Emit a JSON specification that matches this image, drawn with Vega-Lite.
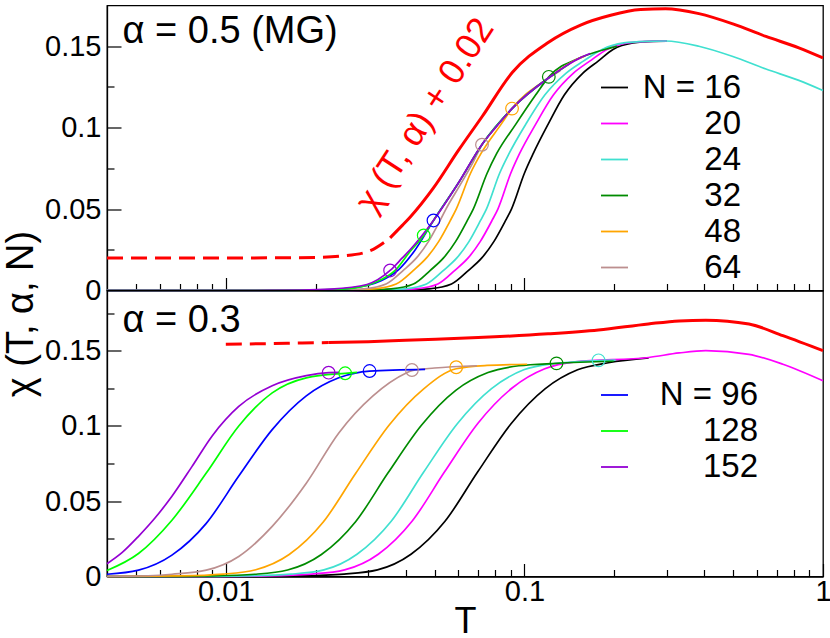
{
"$schema": "https://vega.github.io/schema/vega-lite/v6.json",
"padding": {"left": 1, "top": 1.5, "right": 0, "bottom": 0},
"config": {
  "font": "Liberation Sans, Arial, Helvetica, sans-serif",
  "view": {"stroke": "#000000", "strokeWidth": 1.3},
  "axis": {"grid": false, "domainColor": "#000000", "domainWidth": 1.3, "tickColor": "#000000", "tickWidth": 1.2, "labelFont": "Liberation Sans, Arial, Helvetica, sans-serif", "labelFontSize": 29, "labelColor": "#000000", "titleFont": "Liberation Sans, Arial, Helvetica, sans-serif", "titleFontSize": 38, "titleFontWeight": "normal", "titleColor": "#000000", "labelFlush": false, "labelOverlap": false},
  "legend": {"labelFont": "Liberation Sans, Arial, Helvetica, sans-serif", "labelFontSize": 33, "labelColor": "#000000", "symbolType": "stroke", "symbolSize": 730, "symbolStrokeWidth": 1.8, "labelAlign": "right", "padding": 0}
},
"datasets": {
  "topCurves": [
    {"N":"16","T":0.004,"chi":0},{"N":"16","T":0.03,"chi":0},{"N":"16","T":0.04,"chi":0.0003},{"N":"16","T":0.048,"chi":0.001},{"N":"16","T":0.057,"chi":0.004},{"N":"16","T":0.065,"chi":0.0124},{"N":"16","T":0.072,"chi":0.02},{"N":"16","T":0.079,"chi":0.03},{"N":"16","T":0.0865,"chi":0.043},{"N":"16","T":0.0905,"chi":0.05},{"N":"16","T":0.1,"chi":0.072},{"N":"16","T":0.107,"chi":0.084},{"N":"16","T":0.12,"chi":0.102},{"N":"16","T":0.136,"chi":0.12},{"N":"16","T":0.157,"chi":0.1335},{"N":"16","T":0.177,"chi":0.141},{"N":"16","T":0.198,"chi":0.148},{"N":"16","T":0.231,"chi":0.152},{"N":"16","T":0.27,"chi":0.153},{"N":"16","T":0.3,"chi":0.1531},
    {"N":"20","T":0.004,"chi":0},{"N":"20","T":0.027,"chi":0},{"N":"20","T":0.036,"chi":0.0003},{"N":"20","T":0.0432,"chi":0.001},{"N":"20","T":0.0513,"chi":0.004},{"N":"20","T":0.0585,"chi":0.0124},{"N":"20","T":0.0648,"chi":0.02},{"N":"20","T":0.0711,"chi":0.03},{"N":"20","T":0.0779,"chi":0.043},{"N":"20","T":0.0815,"chi":0.05},{"N":"20","T":0.09,"chi":0.072},{"N":"20","T":0.0963,"chi":0.084},{"N":"20","T":0.109,"chi":0.102},{"N":"20","T":0.125,"chi":0.12},{"N":"20","T":0.146,"chi":0.1335},{"N":"20","T":0.166,"chi":0.141},{"N":"20","T":0.189,"chi":0.148},{"N":"20","T":0.222,"chi":0.152},{"N":"20","T":0.26,"chi":0.153},{"N":"20","T":0.3,"chi":0.1531},
    {"N":"24","T":0.004,"chi":0},{"N":"24","T":0.025,"chi":0},{"N":"24","T":0.033,"chi":0.0003},{"N":"24","T":0.0397,"chi":0.001},{"N":"24","T":0.047,"chi":0.004},{"N":"24","T":0.0536,"chi":0.0124},{"N":"24","T":0.0594,"chi":0.02},{"N":"24","T":0.0652,"chi":0.03},{"N":"24","T":0.0713,"chi":0.043},{"N":"24","T":0.0746,"chi":0.05},{"N":"24","T":0.0826,"chi":0.072},{"N":"24","T":0.0888,"chi":0.084},{"N":"24","T":0.101,"chi":0.102},{"N":"24","T":0.117,"chi":0.12},{"N":"24","T":0.138,"chi":0.1335},{"N":"24","T":0.158,"chi":0.141},{"N":"24","T":0.182,"chi":0.148},{"N":"24","T":0.215,"chi":0.152},{"N":"24","T":0.255,"chi":0.153},{"N":"24","T":0.297,"chi":0.1532},{"N":"24","T":0.384,"chi":0.15},{"N":"24","T":0.499,"chi":0.1437},{"N":"24","T":0.644,"chi":0.136},{"N":"24","T":0.83,"chi":0.129},{"N":"24","T":1,"chi":0.1228},
    {"N":"32","T":0.004,"chi":0},{"N":"32","T":0.022,"chi":0},{"N":"32","T":0.03,"chi":0.0003},{"N":"32","T":0.0358,"chi":0.001},{"N":"32","T":0.0425,"chi":0.004},{"N":"32","T":0.0484,"chi":0.0124},{"N":"32","T":0.0536,"chi":0.02},{"N":"32","T":0.0588,"chi":0.03},{"N":"32","T":0.0644,"chi":0.043},{"N":"32","T":0.0674,"chi":0.05},{"N":"32","T":0.075,"chi":0.072},{"N":"32","T":0.0807,"chi":0.084},{"N":"32","T":0.0935,"chi":0.102},{"N":"32","T":0.109,"chi":0.12},{"N":"32","T":0.1207,"chi":0.1312},{"N":"32","T":0.1542,"chi":0.143},{"N":"32","T":0.1945,"chi":0.149},{"N":"32","T":0.204,"chi":0.15},
    {"N":"48","T":0.004,"chi":0},{"N":"48","T":0.019,"chi":0},{"N":"48","T":0.026,"chi":0.0003},{"N":"48","T":0.0313,"chi":0.001},{"N":"48","T":0.0372,"chi":0.004},{"N":"48","T":0.0425,"chi":0.0124},{"N":"48","T":0.047,"chi":0.02},{"N":"48","T":0.0516,"chi":0.03},{"N":"48","T":0.0565,"chi":0.043},{"N":"48","T":0.0591,"chi":0.05},{"N":"48","T":0.066,"chi":0.072},{"N":"48","T":0.0715,"chi":0.084},{"N":"48","T":0.0835,"chi":0.102},{"N":"48","T":0.0909,"chi":0.1117},{"N":"48","T":0.1194,"chi":0.13},{"N":"48","T":0.1542,"chi":0.143},{"N":"48","T":0.1585,"chi":0.1438},
    {"N":"64","T":0.004,"chi":0},{"N":"64","T":0.018,"chi":0},{"N":"64","T":0.024,"chi":0.0003},{"N":"64","T":0.029,"chi":0.001},{"N":"64","T":0.0344,"chi":0.004},{"N":"64","T":0.0393,"chi":0.0124},{"N":"64","T":0.0435,"chi":0.02},{"N":"64","T":0.0477,"chi":0.03},{"N":"64","T":0.0522,"chi":0.043},{"N":"64","T":0.0546,"chi":0.05},{"N":"64","T":0.061,"chi":0.065},{"N":"64","T":0.067,"chi":0.078},{"N":"64","T":0.0721,"chi":0.0895},{"N":"64","T":0.08,"chi":0.1},{"N":"64","T":0.0912,"chi":0.112},{"N":"64","T":0.1194,"chi":0.13},{"N":"64","T":0.1318,"chi":0.135},
    {"N":"96","T":0.004,"chi":0},{"N":"96","T":0.0141,"chi":0},{"N":"96","T":0.02,"chi":0.0002},{"N":"96","T":0.0263,"chi":0.0015},{"N":"96","T":0.0331,"chi":0.006},{"N":"96","T":0.038,"chi":0.013},{"N":"96","T":0.0427,"chi":0.024},{"N":"96","T":0.0496,"chi":0.043},{"N":"96","T":0.0601,"chi":0.066},{"N":"96","T":0.0723,"chi":0.09},{"N":"96","T":0.0912,"chi":0.112},{"N":"96","T":0.1194,"chi":0.13},{"N":"96","T":0.126,"chi":0.133},
    {"N":"128","T":0.004,"chi":0},{"N":"128","T":0.0126,"chi":0},{"N":"128","T":0.0191,"chi":0.0002},{"N":"128","T":0.0251,"chi":0.001},{"N":"128","T":0.0316,"chi":0.005},{"N":"128","T":0.0372,"chi":0.013},{"N":"128","T":0.0414,"chi":0.024},{"N":"128","T":0.046,"chi":0.0338},{"N":"128","T":0.0496,"chi":0.043},{"N":"128","T":0.0601,"chi":0.066},{"N":"128","T":0.0723,"chi":0.09},{"N":"128","T":0.0912,"chi":0.112},{"N":"128","T":0.1194,"chi":0.13},{"N":"128","T":0.1413,"chi":0.139},
    {"N":"152","T":0.004,"chi":0},{"N":"152","T":0.0126,"chi":0},{"N":"152","T":0.0178,"chi":0.0002},{"N":"152","T":0.0224,"chi":0.0008},{"N":"152","T":0.0297,"chi":0.0037},{"N":"152","T":0.0355,"chi":0.0123},{"N":"152","T":0.039,"chi":0.02},{"N":"152","T":0.0414,"chi":0.025},{"N":"152","T":0.0496,"chi":0.043},{"N":"152","T":0.0601,"chi":0.066},{"N":"152","T":0.0723,"chi":0.09},{"N":"152","T":0.08,"chi":0.1},{"N":"152","T":0.0912,"chi":0.112},{"N":"152","T":0.1194,"chi":0.13},{"N":"152","T":0.1542,"chi":0.143},{"N":"152","T":0.166,"chi":0.1455}
  ],
  "topRed": [
    {"part":"extrapolated","T":0.004,"chi":0.02},{"part":"extrapolated","T":0.01,"chi":0.02},{"part":"extrapolated","T":0.0159,"chi":0.0201},{"part":"extrapolated","T":0.0199,"chi":0.0203},{"part":"extrapolated","T":0.0242,"chi":0.0211},{"part":"extrapolated","T":0.0297,"chi":0.0237},{"part":"extrapolated","T":0.0355,"chi":0.0323},
    {"part":"computed","T":0.0355,"chi":0.0323},{"part":"computed","T":0.039,"chi":0.04},{"part":"computed","T":0.0414,"chi":0.045},{"part":"computed","T":0.0496,"chi":0.063},{"part":"computed","T":0.0601,"chi":0.086},{"part":"computed","T":0.0723,"chi":0.107},{"part":"computed","T":0.0912,"chi":0.134},{"part":"computed","T":0.1194,"chi":0.152},{"part":"computed","T":0.1542,"chi":0.163},{"part":"computed","T":0.1945,"chi":0.169},{"part":"computed","T":0.245,"chi":0.1725},{"part":"computed","T":0.297,"chi":0.173},{"part":"computed","T":0.384,"chi":0.17},{"part":"computed","T":0.499,"chi":0.1637},{"part":"computed","T":0.644,"chi":0.156},{"part":"computed","T":0.83,"chi":0.149},{"part":"computed","T":1,"chi":0.1428}
  ],
  "topCircles": [
    {"N":"152","T":0.0355,"chi":0.0123},{"N":"128","T":0.046,"chi":0.0338},{"N":"96","T":0.0496,"chi":0.043},{"N":"64","T":0.0721,"chi":0.0895},{"N":"48","T":0.0909,"chi":0.1117},{"N":"32","T":0.1207,"chi":0.1312}
  ],
  "bottomCurves": [
    {"N":"16","T":0.004,"chi":0},{"N":"16","T":0.0112,"chi":0},{"N":"16","T":0.0178,"chi":0.0004},{"N":"16","T":0.0249,"chi":0.0016},{"N":"16","T":0.0322,"chi":0.0044},{"N":"16","T":0.0417,"chi":0.0148},{"N":"16","T":0.0542,"chi":0.0367},{"N":"16","T":0.0697,"chi":0.0694},{"N":"16","T":0.0902,"chi":0.1015},{"N":"16","T":0.1175,"chi":0.1248},{"N":"16","T":0.1507,"chi":0.1373},{"N":"16","T":0.191,"chi":0.142},{"N":"16","T":0.2607,"chi":0.1452},
    {"N":"20","T":0.004,"chi":0},{"N":"20","T":0.0087,"chi":0},{"N":"20","T":0.0138,"chi":0.0004},{"N":"20","T":0.0194,"chi":0.0016},{"N":"20","T":0.025,"chi":0.0044},{"N":"20","T":0.0324,"chi":0.0148},{"N":"20","T":0.0421,"chi":0.0369},{"N":"20","T":0.0541,"chi":0.0697},{"N":"20","T":0.07,"chi":0.102},{"N":"20","T":0.0912,"chi":0.1254},{"N":"20","T":0.117,"chi":0.138},{"N":"20","T":0.148,"chi":0.1426},{"N":"20","T":0.2607,"chi":0.1455},{"N":"20","T":0.33,"chi":0.1485},{"N":"20","T":0.405,"chi":0.15},{"N":"20","T":0.565,"chi":0.1476},{"N":"20","T":0.734,"chi":0.141},{"N":"20","T":1,"chi":0.13},
    {"N":"24","T":0.004,"chi":0},{"N":"24","T":0.0074,"chi":0},{"N":"24","T":0.0117,"chi":0.0004},{"N":"24","T":0.0165,"chi":0.0016},{"N":"24","T":0.0213,"chi":0.0044},{"N":"24","T":0.0275,"chi":0.0148},{"N":"24","T":0.0358,"chi":0.0367},{"N":"24","T":0.046,"chi":0.0694},{"N":"24","T":0.0596,"chi":0.1015},{"N":"24","T":0.0776,"chi":0.1248},{"N":"24","T":0.0995,"chi":0.1373},{"N":"24","T":0.126,"chi":0.1415},{"N":"24","T":0.1771,"chi":0.1434},{"N":"24","T":0.202,"chi":0.1437},
    {"N":"32","T":0.004,"chi":0},{"N":"32","T":0.0056,"chi":0},{"N":"32","T":0.0089,"chi":0.0004},{"N":"32","T":0.0125,"chi":0.0015},{"N":"32","T":0.0161,"chi":0.0043},{"N":"32","T":0.0209,"chi":0.0146},{"N":"32","T":0.0272,"chi":0.0364},{"N":"32","T":0.0349,"chi":0.0687},{"N":"32","T":0.0452,"chi":0.1005},{"N":"32","T":0.0589,"chi":0.1237},{"N":"32","T":0.0755,"chi":0.1355},{"N":"32","T":0.0957,"chi":0.14},{"N":"32","T":0.1281,"chi":0.1416},{"N":"32","T":0.199,"chi":0.143},
    {"N":"48","T":0.004,"chi":0},{"N":"48","T":0.007,"chi":0.0004},{"N":"48","T":0.0098,"chi":0.0016},{"N":"48","T":0.0126,"chi":0.0045},{"N":"48","T":0.0163,"chi":0.0146},{"N":"48","T":0.0212,"chi":0.0362},{"N":"48","T":0.0272,"chi":0.0684},{"N":"48","T":0.0352,"chi":0.1005},{"N":"48","T":0.0459,"chi":0.1245},{"N":"48","T":0.0591,"chi":0.138},{"N":"48","T":0.075,"chi":0.1402},{"N":"48","T":0.1021,"chi":0.141},
    {"N":"64","T":0.004,"chi":0},{"N":"64","T":0.0055,"chi":0.0005},{"N":"64","T":0.0066,"chi":0.0015},{"N":"64","T":0.0086,"chi":0.0042},{"N":"64","T":0.01105,"chi":0.0133},{"N":"64","T":0.0143,"chi":0.0333},{"N":"64","T":0.0186,"chi":0.062},{"N":"64","T":0.0239,"chi":0.0954},{"N":"64","T":0.0311,"chi":0.12},{"N":"64","T":0.0402,"chi":0.1352},{"N":"64","T":0.042,"chi":0.1368},{"N":"64","T":0.05,"chi":0.1385},{"N":"64","T":0.0694,"chi":0.14},
    {"N":"96","T":0.004,"chi":0.0015},{"N":"96","T":0.0051,"chi":0.0042},{"N":"96","T":0.0066,"chi":0.0142},{"N":"96","T":0.0086,"chi":0.0353},{"N":"96","T":0.01105,"chi":0.0667},{"N":"96","T":0.0143,"chi":0.0976},{"N":"96","T":0.0186,"chi":0.12},{"N":"96","T":0.0239,"chi":0.132},{"N":"96","T":0.0303,"chi":0.1365},{"N":"96","T":0.0465,"chi":0.1376},
    {"N":"128","T":0.004,"chi":0.004},{"N":"128","T":0.0051,"chi":0.0153},{"N":"128","T":0.0066,"chi":0.0374},{"N":"128","T":0.0086,"chi":0.0687},{"N":"128","T":0.01105,"chi":0.1},{"N":"128","T":0.0143,"chi":0.122},{"N":"128","T":0.0186,"chi":0.132},{"N":"128","T":0.0251,"chi":0.135},{"N":"128","T":0.0275,"chi":0.1356},
    {"N":"152","T":0.004,"chi":0.0085},{"N":"152","T":0.0045,"chi":0.016},{"N":"152","T":0.0051,"chi":0.0267},{"N":"152","T":0.0058,"chi":0.039},{"N":"152","T":0.0066,"chi":0.0533},{"N":"152","T":0.0077,"chi":0.073},{"N":"152","T":0.009,"chi":0.0934},{"N":"152","T":0.01105,"chi":0.113},{"N":"152","T":0.0143,"chi":0.1267},{"N":"152","T":0.0186,"chi":0.1334},{"N":"152","T":0.0221,"chi":0.1354},{"N":"152","T":0.024,"chi":0.1356}
  ],
  "bottomRed": [
    {"part":"extrapolated","T":0.01,"chi":0.1543},{"part":"extrapolated","T":0.014,"chi":0.1547},{"part":"extrapolated","T":0.018,"chi":0.1551},{"part":"extrapolated","T":0.0221,"chi":0.1554},
    {"part":"computed","T":0.0221,"chi":0.1554},{"part":"computed","T":0.03,"chi":0.156},{"part":"computed","T":0.04,"chi":0.157},{"part":"computed","T":0.07,"chi":0.1587},{"part":"computed","T":0.12,"chi":0.1612},{"part":"computed","T":0.177,"chi":0.1638},{"part":"computed","T":0.26,"chi":0.1678},{"part":"computed","T":0.33,"chi":0.1698},{"part":"computed","T":0.405,"chi":0.1703},{"part":"computed","T":0.565,"chi":0.1677},{"part":"computed","T":0.734,"chi":0.16},{"part":"computed","T":1,"chi":0.15}
  ],
  "bottomCircles": [
    {"N":"152","T":0.0221,"chi":0.1354},{"N":"128","T":0.0251,"chi":0.135},{"N":"96","T":0.0303,"chi":0.1365},{"N":"64","T":0.042,"chi":0.1372},{"N":"48","T":0.0591,"chi":0.139},{"N":"32","T":0.1281,"chi":0.1416},{"N":"24","T":0.1771,"chi":0.1436}
  ]
},
"spacing": 0,
"bounds": "flush",
"resolve": {"scale": {"color": "independent"}, "legend": {"color": "independent"}},
"vconcat": [
  {
    "width": 716, "height": 285,
    "layer": [
      {
        "data": {"name": "topCurves"},
        "mark": {"type": "line", "strokeWidth": 1.7, "interpolate": "monotone"},
        "encoding": {
          "x": {"field": "T", "type": "quantitative", "scale": {"type": "log", "domain": [0.004, 1], "nice": false},
                "axis": {"values": [0.005,0.006,0.007,0.008,0.009,0.01,0.02,0.03,0.04,0.05,0.06,0.07,0.08,0.09,0.1,0.2,0.3,0.4,0.5,0.6,0.7,0.8,0.9], "labels": false, "title": null,
                         "tickSize": {"condition": {"test": "datum.value == 0.01 || datum.value == 0.1", "value": -13}, "value": -7}}},
          "y": {"field": "chi", "type": "quantitative", "scale": {"domain": [0, 0.175], "nice": false},
                "axis": {"values": [0,0.025,0.05,0.075,0.1,0.125,0.15], "title": null, "labelPadding": 20,
                         "labelExpr": "(datum.value == 0 || datum.value == 0.05 || datum.value == 0.1 || datum.value == 0.15) ? format(datum.value, '.2~f') : ''",
                         "tickSize": {"condition": {"test": "datum.value == 0 || datum.value == 0.05 || datum.value == 0.1 || datum.value == 0.15", "value": -14}, "value": -7}}},
          "color": {"field": "N", "type": "nominal",
                    "scale": {"domain": ["16","20","24","32","48","64","96","128","152"], "range": ["#000000","#ff00ff","#40e0d0","#008b00","#ffa500","#bc8f8f","#0000ff","#00ff00","#9400d3"]},
                    "legend": {"values": ["16","20","24","32","48","64"], "orient": "none", "legendX": 491, "legendY": 65.5, "title": null, "labelOffset": 110, "padding": 0,
                               "labelExpr": "datum.label == '16' ? 'N = ' + datum.label : datum.label"}}
        }
      },
      {
        "data": {"name": "topRed"},
        "transform": [{"filter": "datum.part == 'extrapolated'"}],
        "mark": {"type": "line", "color": "#ff0000", "strokeWidth": 3, "strokeDash": [16, 8], "interpolate": "monotone"},
        "encoding": {"x": {"field": "T", "type": "quantitative"}, "y": {"field": "chi", "type": "quantitative"}}
      },
      {
        "data": {"name": "topRed"},
        "transform": [{"filter": "datum.part == 'computed'"}],
        "mark": {"type": "line", "color": "#ff0000", "strokeWidth": 3, "interpolate": "monotone"},
        "encoding": {"x": {"field": "T", "type": "quantitative"}, "y": {"field": "chi", "type": "quantitative"}}
      },
      {
        "data": {"name": "topCircles"},
        "mark": {"type": "point", "filled": false, "size": 160, "strokeWidth": 1.2, "opacity": 1},
        "encoding": {"x": {"field": "T", "type": "quantitative"}, "y": {"field": "chi", "type": "quantitative"},
                     "color": {"field": "N", "type": "nominal", "legend": null}}
      },
      {
        "data": {"values": [{}]},
        "mark": {"type": "text", "text": "χ (T, α) + 0.02", "angle": -57, "fontSize": 36, "color": "#ff0000", "align": "center", "baseline": "middle"},
        "encoding": {"x": {"datum": 0.0465, "type": "quantitative"}, "y": {"datum": 0.1075, "type": "quantitative"}}
      },
      {
        "data": {"values": [{}]},
        "mark": {"type": "text", "text": "α = 0.5 (MG)", "fontSize": 38, "color": "#000000", "align": "left", "baseline": "alphabetic"},
        "encoding": {"x": {"datum": 0.00451, "type": "quantitative"}, "y": {"datum": 0.152, "type": "quantitative"}}
      }
    ]
  },
  {
    "width": 716, "height": 286,
    "layer": [
      {
        "data": {"name": "bottomCurves"},
        "mark": {"type": "line", "strokeWidth": 1.7, "interpolate": "monotone"},
        "encoding": {
          "x": {"field": "T", "type": "quantitative", "scale": {"type": "log", "domain": [0.004, 1], "nice": false},
                "axis": {"values": [0.005,0.006,0.007,0.008,0.009,0.01,0.02,0.03,0.04,0.05,0.06,0.07,0.08,0.09,0.1,0.2,0.3,0.4,0.5,0.6,0.7,0.8,0.9,1], "title": "T", "titleY": 56, "titleFontSize": 36, "titleBaseline": "alphabetic", "labelPadding": 14,
                         "labelExpr": "datum.value == 0.01 ? '0.01' : (datum.value == 0.1 ? '0.1' : (datum.value == 1 ? '1' : ''))",
                         "tickSize": {"condition": {"test": "datum.value == 0.01 || datum.value == 0.1 || datum.value == 1", "value": -13}, "value": -7}}},
          "y": {"field": "chi", "type": "quantitative", "scale": {"domain": [0, 0.19], "nice": false},
                "axis": {"values": [0,0.025,0.05,0.075,0.1,0.125,0.15,0.175], "title": "χ (T, α, N)", "titleX": -86, "titleY": 23, "titleAngle": 270, "titleBaseline": "middle", "titleAlign": "center", "labelPadding": 20,
                         "labelExpr": "(datum.value == 0 || datum.value == 0.05 || datum.value == 0.1 || datum.value == 0.15) ? format(datum.value, '.2~f') : ''",
                         "tickSize": {"condition": {"test": "datum.value == 0 || datum.value == 0.05 || datum.value == 0.1 || datum.value == 0.15", "value": -14}, "value": -7}}},
          "color": {"field": "N", "type": "nominal",
                    "scale": {"domain": ["16","20","24","32","48","64","96","128","152"], "range": ["#000000","#ff00ff","#40e0d0","#008b00","#ffa500","#bc8f8f","#0000ff","#00ff00","#9400d3"]},
                    "legend": {"values": ["96","128","152"], "orient": "none", "legendX": 491, "legendY": 88, "title": null, "labelOffset": 127, "padding": 0,
                               "labelExpr": "datum.label == '96' ? 'N = 96 ' : datum.label"}}
        }
      },
      {
        "data": {"name": "bottomRed"},
        "transform": [{"filter": "datum.part == 'extrapolated'"}],
        "mark": {"type": "line", "color": "#ff0000", "strokeWidth": 3, "strokeDash": [16, 8], "interpolate": "monotone"},
        "encoding": {"x": {"field": "T", "type": "quantitative"}, "y": {"field": "chi", "type": "quantitative"}}
      },
      {
        "data": {"name": "bottomRed"},
        "transform": [{"filter": "datum.part == 'computed'"}],
        "mark": {"type": "line", "color": "#ff0000", "strokeWidth": 3, "interpolate": "monotone"},
        "encoding": {"x": {"field": "T", "type": "quantitative"}, "y": {"field": "chi", "type": "quantitative"}}
      },
      {
        "data": {"name": "bottomCircles"},
        "mark": {"type": "point", "filled": false, "size": 160, "strokeWidth": 1.2, "opacity": 1},
        "encoding": {"x": {"field": "T", "type": "quantitative"}, "y": {"field": "chi", "type": "quantitative"},
                     "color": {"field": "N", "type": "nominal", "legend": null}}
      },
      {
        "data": {"values": [{}]},
        "mark": {"type": "text", "text": "α = 0.3", "fontSize": 38, "color": "#000000", "align": "left", "baseline": "alphabetic"},
        "encoding": {"x": {"datum": 0.00451, "type": "quantitative"}, "y": {"datum": 0.1625, "type": "quantitative"}}
      }
    ]
  }
]
}
